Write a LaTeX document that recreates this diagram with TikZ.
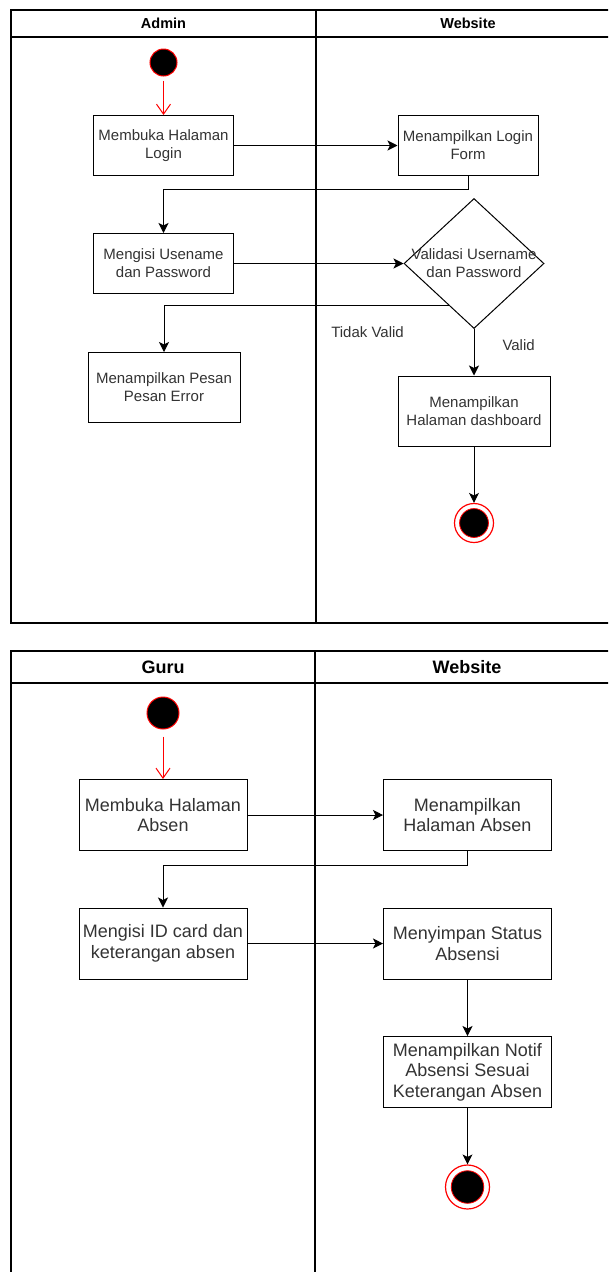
\documentclass[tikz,border=0pt]{standalone}
\usepackage{fontspec}
\setmainfont{Liberation Sans}
\usetikzlibrary{arrows.meta,calc,shapes.geometric}
\definecolor{txtgray}{HTML}{333333}

\begin{document}
\begin{tikzpicture}[x=1pt, y=-1pt, line width=1pt, >={Stealth[length=10pt, width=10pt, inset=2.5pt]},
    lane/.style={draw, line width=1.2pt},
    head/.style={font=\bfseries\fontsize{14.5}{17}\selectfont},
    big head/.style={font=\bfseries\fontsize{18}{21}\selectfont},
    main node/.style={rectangle, draw, align=center, text=txtgray, inner sep=1pt},
    login box/.style={main node, minimum width=140pt, minimum height=60pt},
    wide box/.style={main node, minimum width=152pt, minimum height=70pt},
    absen box/.style={main node, minimum width=168pt, minimum height=71pt, font=\fontsize{18}{20.5}\selectfont},
    decision node/.style={diamond, draw, minimum width=140pt, minimum height=130pt, inner sep=0pt},
    start node/.style={circle, draw=red, fill=black, minimum size=#1, inner sep=0pt},
    end node/.style={circle, draw=red, line width=1.2pt, fill=white, minimum size=#1, inner sep=0pt,
      path picture={\path[fill=black, draw=red, line width=0.8pt] (path picture bounding box.center) circle ({#1*0.37});}},
    start edge/.style={red, -{Straight Barb[length=10pt, width=14pt]}},
    edge label/.style={inner sep=0pt, text=txtgray}]
  \tikzstyle{every node}=[font=\fontsize{15}{18}\selectfont]
  \clip (0,0) rectangle (608,1272);

  % Admin / Website
  \draw[lane] (11,10) rectangle (620,623);
  \draw[lane] (11,37) -- (620,37);
  \draw[lane] (316,10) -- (316,623);
  \node[head] (admin) at (163.5,23.5) {Admin};
  \node[head] (web1) at (468,23.5) {Website};

  \node[start node=27pt] (1) at (163.5,62.5) {};
  \node[login box] (2) at (163.5,145.5) {Membuka Halaman\\Login};
  \node[login box] (3) at (468,145.5) {Menampilkan Login\\Form};
  \node[login box] (4) at (163.5,263.5) {Mengisi Usename\\dan Password};
  \node[decision node, label={[align=center, text=txtgray]center:Validasi Username\\dan Password}] (5) at (474,263.5) {};
  \node[wide box] (6) at (164,387.5) {Menampilkan Pesan\\Pesan Error};
  \node[wide box] (7) at (474,411) {Menampilkan\\Halaman dashboard};
  \node[end node=39pt] (8) at (474,523) {};

  \draw[start edge, shorten <=4pt] (1.south) -- (2.north);
  \path[->] (2) edge (3);
  \draw[->] (3.south) -- ++(0,13) -| (4.north);
  \draw[->] (4.east) -- (5.west);
  \draw[->] ($(5.west)!0.646!(5.south)$) -| node[edge label, pos=0.143, below=20pt] {Tidak Valid} (6.north);
  \draw[->] (5.south) -- node[edge label, pos=0.35, right=28pt] {Valid} (7.north);
  \path[->] (7) edge (8);

  % Guru / Website
  \draw[lane] (11,651) rectangle (620,1290);
  \draw[lane] (11,683) -- (620,683);
  \draw[lane] (315,651) -- (315,1290);
  \node[big head] (guru) at (163,667) {Guru};
  \node[big head] (web2) at (467,667) {Website};

  \node[start node=32pt] (9) at (163,713) {};
  \node[absen box] (10) at (163,815) {Membuka Halaman\\Absen};
  \node[absen box] (11) at (467.5,815) {Menampilkan\\Halaman Absen};
  \node[absen box] (12) at (163,943.5) {Mengisi ID card dan\\keterangan absen};
  \node[absen box] (13) at (467.5,943.5) {Menyimpan Status\\Absensi};
  \node[absen box] (14) at (467.5,1072) {Menampilkan Notif\\Absensi Sesuai\\Keterangan Absen};
  \node[end node=44pt] (15) at (467.5,1187) {};

  \draw[start edge, shorten <=7pt] (9.south) -- (10.north);
  \path[->] (10) edge (11);
  \draw[->] (11.south) -- ++(0,14) -| (12.north);
  \path[->] (12) edge (13)
           (13) edge (14)
           (14) edge (15);
\end{tikzpicture}
\end{document}
